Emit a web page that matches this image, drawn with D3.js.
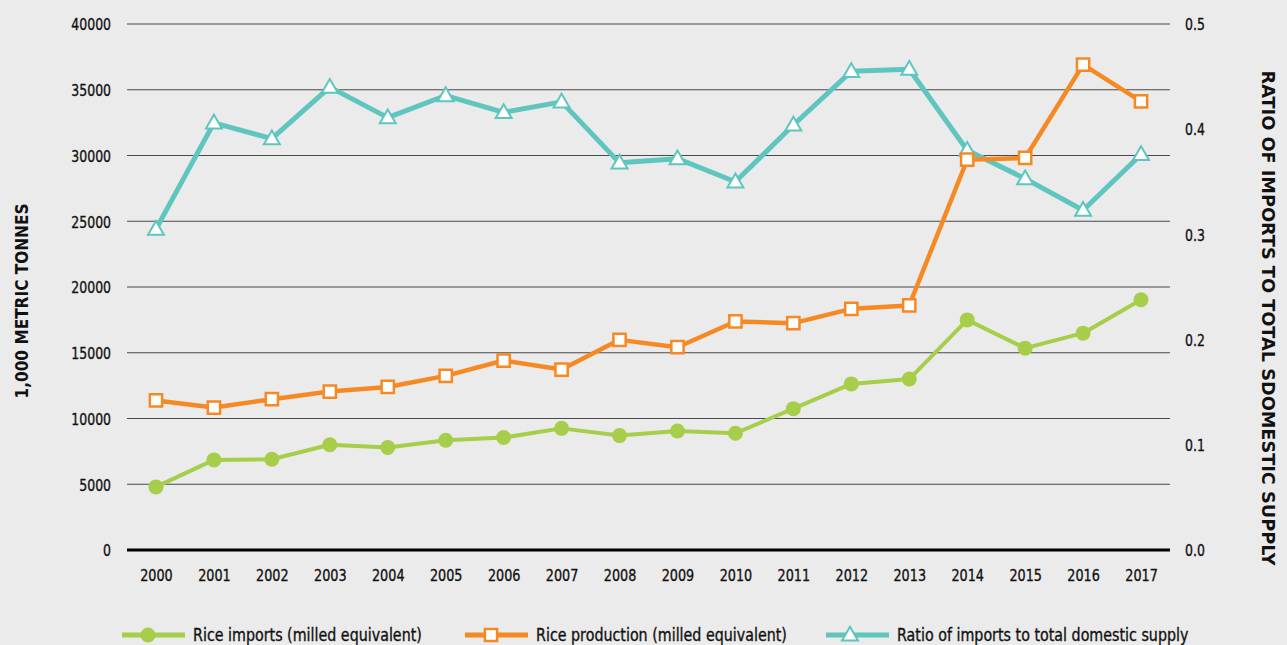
<!DOCTYPE html>
<html><head><meta charset="utf-8">
<script src="https://cdn.jsdelivr.net/npm/d3@7"></script>
<style>
html,body{margin:0;padding:0;background:#ebebeb;}
text{font-family:"DejaVu Sans",sans-serif;fill:#111;}
.tk text, text.lg{stroke:#111;stroke-width:0.35px;}
</style></head>
<body>
<svg id="c" width="1287" height="645"></svg>
<script>
const years = ["2000","2001","2002","2003","2004","2005","2006","2007","2008","2009","2010","2011","2012","2013","2014","2015","2016","2017"];
const riceImports = [4800,6850,6900,8000,7800,8350,8550,9250,8700,9050,8880,10750,12630,13000,17500,15350,16490,19030];
const riceProduction = [11370,10830,11470,12050,12400,13240,14410,13720,15980,15420,17380,17250,18340,18600,29680,29810,36910,34120];
const importRatio = [0.305,0.406,0.391,0.440,0.411,0.432,0.416,0.426,0.368,0.372,0.350,0.404,0.455,0.457,0.380,0.353,0.323,0.376];
const leftTicks = [0,5000,10000,15000,20000,25000,30000,35000,40000];
const rightTicks = [0,0.1,0.2,0.3,0.4,0.5];
const legendLabels = ["Rice imports (milled equivalent)","Rice production (milled equivalent)","Ratio of imports to total domestic supply"];

const colors = {imp:"#a6ce4b", prod:"#f58a24", ratio:"#5ec5bf"};
const svg = d3.select("#c");
const L = 127, R = 1170, T = 24, B = 550;

const x = d3.scalePoint().domain(years).range([L, R]).padding(0.5);
const yL = d3.scaleLinear().domain([0,40000]).range([B, T]);
const yR = d3.scaleLinear().domain([0,0.5]).range([B, T]);

// gridlines
svg.append("g").selectAll("line").data(leftTicks.filter(d=>d>0)).join("line")
  .attr("x1", L).attr("x2", R).attr("y1", d=>yL(d)).attr("y2", d=>yL(d))
  .attr("stroke", "#4a4a4a").attr("stroke-width", 1.2);
svg.append("line").attr("x1", L).attr("x2", R).attr("y1", B).attr("y2", B)
  .attr("stroke", "#000").attr("stroke-width", 3);

// left axis labels
const axL = svg.append("g").attr("class","tk").attr("transform", `translate(${L-16},0)`)
  .call(d3.axisLeft(yL).tickValues(leftTicks).tickFormat(d3.format("d")).tickSize(0).tickPadding(0));
axL.select(".domain").remove();
axL.selectAll("text").attr("x",0).attr("font-size", 16).attr("dy", "0.36em").attr("transform","scale(0.78,1)");

// right axis labels
const axR = svg.append("g").attr("class","tk").attr("transform", `translate(${R+15},0)`)
  .call(d3.axisRight(yR).tickValues(rightTicks).tickFormat(d3.format(".1f")).tickSize(0).tickPadding(0));
axR.select(".domain").remove();
axR.selectAll("text").attr("x",0).attr("font-size", 16).attr("dy", "0.36em").attr("transform","scale(0.78,1)");

// x axis labels
const axX = svg.append("g").attr("class","tk").attr("transform", `translate(0,${B+20})`)
  .call(d3.axisBottom(x).tickSize(0).tickPadding(0));
axX.select(".domain").remove();
axX.selectAll("text").attr("font-size", 16).attr("dy", "0.71em").attr("transform","scale(0.8,1)");

// axis titles
svg.append("text").attr("transform", `translate(28,${(T+B)/2+14}) rotate(-90)`)
  .attr("text-anchor","middle").attr("font-size",17).attr("font-weight","bold")
  .attr("textLength",195).attr("lengthAdjust","spacingAndGlyphs")
  .text("1,000 METRIC TONNES");
svg.append("text").attr("transform", `translate(1262,${(T+B)/2+31}) rotate(90)`)
  .attr("text-anchor","middle").attr("font-size",17).attr("font-weight","bold")
  .attr("textLength",495).attr("lengthAdjust","spacingAndGlyphs")
  .text("RATIO OF IMPORTS TO TOTAL SDOMESTIC SUPPLY");

const tri = d3.symbol().type(d3.symbolTriangle).size(110);
const sq = d3.symbol().type(d3.symbolSquare).size(150);

// ratio series
svg.append("path").datum(importRatio)
  .attr("d", d3.line().x((d,i)=>x(years[i])).y(d=>yR(d)))
  .attr("fill","none").attr("stroke",colors.ratio).attr("stroke-width",5).attr("stroke-linejoin","round");
svg.append("g").selectAll("path").data(importRatio).join("path")
  .attr("transform",(d,i)=>`translate(${x(years[i])},${yR(d)+1})`)
  .attr("d", tri).attr("fill","#fff").attr("stroke",colors.ratio).attr("stroke-width",2);

// production series
svg.append("path").datum(riceProduction)
  .attr("d", d3.line().x((d,i)=>x(years[i])).y(d=>yL(d)))
  .attr("fill","none").attr("stroke",colors.prod).attr("stroke-width",4.5).attr("stroke-linejoin","round");
svg.append("g").selectAll("path").data(riceProduction).join("path")
  .attr("transform",(d,i)=>`translate(${x(years[i])},${yL(d)})`)
  .attr("d", sq).attr("fill","#fff").attr("stroke",colors.prod).attr("stroke-width",2.5);

// imports series
svg.append("path").datum(riceImports)
  .attr("d", d3.line().x((d,i)=>x(years[i])).y(d=>yL(d)))
  .attr("fill","none").attr("stroke",colors.imp).attr("stroke-width",4).attr("stroke-linejoin","round");
svg.append("g").selectAll("circle").data(riceImports).join("circle")
  .attr("cx",(d,i)=>x(years[i])).attr("cy",d=>yL(d)).attr("r",7.5).attr("fill",colors.imp);

// legend
const leg = [
  {x:122, c:colors.imp, k:"circle"},
  {x:465, c:colors.prod, k:"square"},
  {x:826, c:colors.ratio, k:"tri"}
];
const ly = 635;
leg.forEach((l,i)=>{
  const g = svg.append("g");
  g.append("line").attr("x1",l.x).attr("x2",l.x+63).attr("y1",ly).attr("y2",ly)
    .attr("stroke",l.c).attr("stroke-width",5);
  if(l.k==="circle") g.append("circle").attr("cx",l.x+26).attr("cy",ly).attr("r",7.5).attr("fill",l.c);
  if(l.k==="square") g.append("path").attr("transform",`translate(${l.x+26},${ly})`).attr("d",sq).attr("fill","#fff").attr("stroke",l.c).attr("stroke-width",2.5);
  if(l.k==="tri") g.append("path").attr("transform",`translate(${l.x+24},${ly+1})`).attr("d",tri).attr("fill","#fff").attr("stroke",l.c).attr("stroke-width",2);
  g.append("text").attr("class","lg").attr("transform",`translate(${l.x+71},${ly}) scale(0.84,1)`).attr("dy","0.36em").attr("font-size",17).text(legendLabels[i]);
});
</script>
</body></html>
